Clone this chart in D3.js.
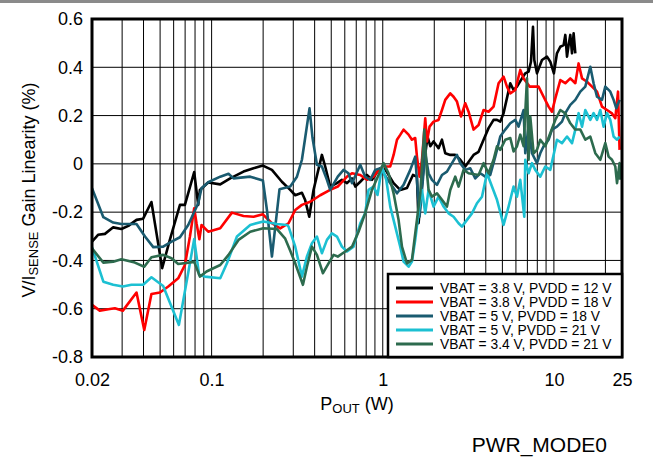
<!DOCTYPE html>
<html><head><meta charset="utf-8">
<script src="https://cdn.jsdelivr.net/npm/d3@7/dist/d3.min.js"></script>
<style>
body{margin:0;background:#fff;}
svg{display:block;font-family:"Liberation Sans",Arial,sans-serif;}
</style></head>
<body><svg id="c" width="653" height="465"></svg>
<script>
const xTicks = [0.02, 0.1, 1, 10, 25];
const yTicks = [-0.8, -0.6, -0.4, -0.2, 0, 0.2, 0.4, 0.6];
const xGrid = [0.03,0.04,0.05,0.06,0.07,0.08,0.09,0.1,0.2,0.3,0.4,0.5,0.6,0.7,0.8,0.9,1,2,3,4,5,6,7,8,9,10,20];
const seriesNames = ["VBAT = 3.8 V, PVDD = 12 V","VBAT = 3.8 V, PVDD = 18 V","VBAT = 5 V, PVDD = 18 V","VBAT = 5 V, PVDD = 21 V","VBAT = 3.4 V, PVDD = 21 V"];
const seriesColors = ["#000000","#ff0000","#1a5b70","#1cc0d2","#2d6b4e"];

const blackData = [[0.02,-0.322],[0.0217,-0.294],[0.0238,-0.29],[0.0266,-0.263],[0.0297,-0.27],[0.0326,-0.257],[0.0364,-0.232],[0.0398,-0.227],[0.0445,-0.158],[0.0514,-0.432],[0.057,-0.315],[0.0653,-0.17],[0.0698,-0.17],[0.0791,-0.034],[0.0835,-0.17],[0.0854,-0.108],[0.0955,-0.077],[0.1123,-0.085],[0.1284,-0.06],[0.1536,-0.032],[0.1758,-0.018],[0.1994,-0.007],[0.2251,-0.025],[0.2574,-0.074],[0.288,-0.108],[0.308,-0.13],[0.337,-0.12],[0.352,-0.15],[0.372,-0.219],[0.394,-0.108],[0.441,0.037],[0.461,-0.011],[0.493,-0.094],[0.54,-0.08],[0.577,-0.066],[0.618,-0.08],[0.661,-0.06],[0.691,-0.094],[0.739,-0.074],[0.808,-0.046],[0.865,-0.066],[0.945,-0.025],[1.011,-0.011],[1.081,-0.046],[1.157,-0.08],[1.265,-0.108],[1.385,-0.1],[1.501,-0.046],[1.584,-0.053],[1.619,-0.246],[1.732,-0.011],[1.827,0.113],[1.895,0.073],[1.981,0.093],[2.119,0.065],[2.218,0.1],[2.318,0.044],[2.48,0.037],[2.652,0.037],[2.837,0.017],[3.035,-0.011],[3.393,0.037],[3.63,0.05],[3.883,0.1],[4.152,0.148],[4.441,0.182],[4.65,0.182],[4.86,0.175],[5.081,0.21],[5.56,0.334],[5.813,0.306],[6.086,0.32],[6.51,0.354],[6.804,0.375],[7.114,0.382],[7.346,0.423],[7.548,0.568],[7.68,0.43],[7.965,0.375],[8.52,0.43],[9.113,0.444],[9.524,0.423],[10.0,0.375],[10.42,0.458],[10.9,0.485],[11.4,0.492],[11.66,0.534],[11.93,0.444],[12.19,0.492],[12.47,0.534],[12.76,0.458],[13.04,0.541],[13.34,0.458]];

const redData = [[0.02,-0.584],[0.0222,-0.608],[0.0249,-0.602],[0.0272,-0.598],[0.0303,-0.608],[0.0364,-0.533],[0.0404,-0.688],[0.0445,-0.539],[0.0499,-0.533],[0.0558,-0.508],[0.0638,-0.474],[0.0698,-0.419],[0.0747,-0.301],[0.0791,-0.184],[0.0816,-0.246],[0.0848,-0.312],[0.0873,-0.253],[0.0955,-0.281],[0.1123,-0.267],[0.1314,-0.202],[0.1536,-0.216],[0.1758,-0.219],[0.1994,-0.209],[0.2251,-0.246],[0.2517,-0.267],[0.2815,-0.246],[0.308,-0.191],[0.337,-0.17],[0.377,-0.157],[0.4312,-0.13],[0.493,-0.108],[0.5459,-0.094],[0.618,-0.053],[0.661,-0.039],[0.739,-0.046],[0.808,-0.066],[0.8835,-0.053],[0.967,-0.018],[1.034,-0.011],[1.106,-0.011],[1.157,0.037],[1.211,0.1],[1.265,0.12],[1.323,0.142],[1.415,0.121],[1.481,0.1],[1.548,0.107],[1.584,0.03],[1.641,-0.053],[1.695,0.017],[1.771,0.189],[1.813,0.093],[1.877,0.154],[1.981,0.175],[2.119,0.182],[2.218,0.223],[2.318,0.265],[2.48,0.292],[2.593,0.278],[2.714,0.258],[2.864,0.196],[3.035,0.251],[3.173,0.216],[3.393,0.142],[3.63,0.161],[3.883,0.223],[4.152,0.216],[4.248,0.223],[4.441,0.237],[4.751,0.334],[5.081,0.361],[5.319,0.32],[5.56,0.292],[5.947,0.306],[6.361,0.389],[6.651,0.354],[7.211,0.32],[7.61,0.32],[8.138,0.32],[8.705,0.278],[9.31,0.237],[9.746,0.216],[10.19,0.271],[10.9,0.347],[11.66,0.334],[12.47,0.354],[13.34,0.334],[13.94,0.416],[14.6,0.354],[15.61,0.34],[16.7,0.32],[17.86,0.299],[19.1,0.237],[20.43,0.223],[21.85,0.209],[22.85,0.189],[23.7,0.299],[24.2,0.058]];

const tealData = [[0.02,-0.101],[0.0233,-0.221],[0.0266,-0.243],[0.0297,-0.249],[0.0364,-0.249],[0.0408,-0.301],[0.0456,-0.345],[0.0521,-0.343],[0.0583,-0.322],[0.0653,-0.304],[0.073,-0.253],[0.0835,-0.163],[0.0873,-0.101],[0.0955,-0.076],[0.1123,-0.053],[0.1255,-0.041],[0.1343,-0.06],[0.1681,-0.053],[0.1994,-0.069],[0.2105,-0.191],[0.2251,-0.384],[0.2493,-0.105],[0.288,-0.094],[0.3152,-0.053],[0.337,0.017],[0.352,0.107],[0.3733,0.23],[0.3888,0.107],[0.4125,-0.004],[0.441,-0.011],[0.4719,-0.066],[0.493,-0.108],[0.5459,-0.053],[0.59,-0.025],[0.63,-0.039],[0.661,-0.08],[0.739,-0.004],[0.789,-0.053],[0.8456,-0.066],[0.904,-0.025],[0.967,-0.018],[1.106,-0.08],[1.211,-0.122],[1.323,-0.087],[1.448,-0.025],[1.548,0.03],[1.641,-0.219],[1.695,-0.108],[1.771,0.044],[1.852,-0.039],[1.939,-0.066],[2.074,-0.087],[2.218,-0.046],[2.372,-0.032],[2.538,0.003],[2.714,0.037],[2.837,0.003],[3.035,-0.025],[3.246,-0.018],[3.471,-0.06],[3.713,-0.039],[3.972,-0.053],[4.248,-0.046],[4.543,0.03],[4.86,0.113],[5.198,0.142],[5.56,0.168],[5.947,0.182],[6.218,0.154],[6.651,0.223],[6.804,0.044],[7.114,0.154],[7.447,0.044],[7.965,0.003],[8.325,0.044],[8.705,0.073],[9.31,0.1],[9.746,0.142],[10.42,0.154],[11.15,0.175],[11.66,0.21],[12.47,0.244],[13.34,0.265],[14.27,0.299],[15.26,0.32],[16.32,0.402],[17.06,0.334],[17.86,0.278],[19.1,0.265],[19.97,0.32],[21.36,0.299],[22.33,0.265],[23.16,0.23],[24.2,0.265]];

const cyanData = [[0.02,-0.345],[0.0233,-0.488],[0.0266,-0.501],[0.0303,-0.508],[0.034,-0.501],[0.0398,-0.501],[0.0445,-0.47],[0.0521,-0.506],[0.0644,-0.667],[0.0791,-0.312],[0.0845,-0.46],[0.0914,-0.467],[0.1123,-0.474],[0.1229,-0.412],[0.1406,-0.301],[0.1681,-0.253],[0.2005,-0.239],[0.2408,-0.249],[0.2755,-0.253],[0.2815,-0.26],[0.308,-0.343],[0.337,-0.467],[0.3605,-0.384],[0.3856,-0.329],[0.4125,-0.301],[0.441,-0.37],[0.4719,-0.315],[0.5047,-0.288],[0.54,-0.301],[0.577,-0.343],[0.618,-0.363],[0.6751,-0.343],[0.739,-0.246],[0.789,-0.205],[0.826,-0.108],[0.8835,-0.094],[0.932,-0.129],[0.989,-0.011],[1.048,-0.066],[1.106,-0.177],[1.183,-0.26],[1.265,-0.343],[1.323,-0.405],[1.415,-0.426],[1.481,-0.405],[1.548,-0.315],[1.619,-0.205],[1.695,-0.108],[1.771,-0.205],[1.852,-0.108],[1.981,-0.177],[2.119,-0.136],[2.266,-0.177],[2.424,-0.205],[2.593,-0.219],[2.773,-0.246],[2.903,-0.26],[3.105,-0.232],[3.321,-0.205],[3.552,-0.163],[3.8,-0.136],[4.064,-0.039],[4.347,-0.094],[4.65,-0.149],[4.86,-0.2],[5.081,-0.253],[5.435,-0.177],[5.813,-0.094],[6.086,-0.136],[6.361,-0.066],[6.713,-0.219],[6.804,0.017],[7.114,-0.039],[7.447,0.003],[7.784,-0.025],[8.325,-0.053],[8.905,-0.011],[9.524,-0.025],[10.42,0.1],[11.15,0.086],[11.93,0.113],[12.76,0.086],[13.34,0.142],[13.94,0.21],[14.6,0.154],[15.26,0.223],[16.32,0.182],[17.06,0.21],[17.86,0.182],[18.67,0.223],[19.52,0.154],[20.43,0.21],[21.36,0.182],[22.33,0.113],[23.38,0.1],[24.2,0.113]];

const greenData = [[0.02,-0.35],[0.0233,-0.409],[0.0266,-0.405],[0.0297,-0.395],[0.0356,-0.409],[0.0404,-0.426],[0.0445,-0.387],[0.0521,-0.377],[0.0583,-0.391],[0.0638,-0.415],[0.0791,-0.406],[0.0854,-0.467],[0.0934,-0.446],[0.1123,-0.419],[0.1255,-0.377],[0.1436,-0.315],[0.1681,-0.281],[0.2005,-0.267],[0.2408,-0.27],[0.2692,-0.31],[0.288,-0.36],[0.308,-0.412],[0.3416,-0.501],[0.3605,-0.426],[0.3856,-0.343],[0.4125,-0.377],[0.4472,-0.453],[0.4823,-0.412],[0.5159,-0.377],[0.5459,-0.384],[0.6038,-0.363],[0.661,-0.343],[0.722,-0.281],[0.789,-0.205],[0.865,-0.108],[0.945,-0.046],[1.011,0.003],[1.081,-0.039],[1.157,-0.122],[1.237,-0.232],[1.295,-0.343],[1.385,-0.412],[1.481,-0.398],[1.548,-0.288],[1.657,-0.122],[1.749,0.142],[1.813,-0.039],[1.852,-0.108],[1.939,-0.136],[2.074,-0.122],[2.218,-0.149],[2.372,-0.177],[2.48,-0.108],[2.652,-0.053],[2.773,-0.094],[2.966,-0.025],[3.173,-0.039],[3.63,-0.046],[3.883,0.003],[4.152,-0.039],[4.441,0.017],[4.65,0.073],[4.86,0.058],[5.198,0.1],[5.56,0.107],[5.813,0.051],[6.086,0.073],[6.361,0.121],[6.651,0.073],[6.963,0.354],[7.114,0.017],[7.277,0.196],[7.61,0.044],[7.965,0.058],[8.325,0.1],[8.905,0.073],[9.524,0.127],[10.19,0.182],[10.9,0.223],[11.66,0.209],[12.47,0.168],[13.34,0.142],[14.27,0.142],[15.26,0.1],[16.32,0.113],[17.46,0.044],[18.67,0.017],[19.97,0.086],[20.88,0.03],[21.85,0.017],[22.85,-0.011],[23.38,-0.08],[24.2,0.003],[24.4,-0.066]];

const allSeries = [blackData, redData, tealData, cyanData, greenData];

const svg = d3.select("#c");
const L = 92, R = 622, T = 19, B = 357;
const x = d3.scaleLog().domain([0.02, 25]).range([L, R]);
const y = d3.scaleLinear().domain([-0.8, 0.6]).range([B, T]);

// top gray rule
svg.append("rect").attr("x",0).attr("y",0).attr("width",653).attr("height",3).attr("fill","#8a8a8a");

// grid
const g = svg.append("g");
g.selectAll("line.vg").data(xGrid).join("line")
  .attr("x1", d=>x(d)).attr("x2", d=>x(d)).attr("y1", T).attr("y2", B)
  .attr("stroke","#000").attr("stroke-width",1);
g.selectAll("line.hg").data(yTicks.slice(1,-1)).join("line")
  .attr("x1", L).attr("x2", R).attr("y1", d=>y(d)).attr("y2", d=>y(d))
  .attr("stroke","#000").attr("stroke-width",1);

// series
svg.append("clipPath").attr("id","pc").append("rect")
  .attr("x",L).attr("y",T).attr("width",R-L).attr("height",B-T);
const line = d3.line().x(d=>x(d[0])).y(d=>y(d[1]));
const sg = svg.append("g").attr("clip-path","url(#pc)");
allSeries.forEach((s,i)=>{
  sg.append("path").datum(s).attr("d", line).attr("fill","none")
    .attr("stroke", seriesColors[i]).attr("stroke-width",2.6)
    .attr("stroke-linejoin","round");
});

// frame
svg.append("rect").attr("x",L).attr("y",T).attr("width",R-L).attr("height",B-T)
  .attr("fill","none").attr("stroke","#000").attr("stroke-width",3);

// axes (labels only)
const fmt = d => d===0 ? "0" : String(d);
const ya = svg.append("g").attr("transform",`translate(${L},0)`)
  .call(d3.axisLeft(y).tickValues(yTicks).tickSize(0).tickPadding(9).tickFormat(fmt));
ya.select(".domain").remove();
ya.selectAll("text").attr("font-size",18).attr("font-family","Liberation Sans, Arial, sans-serif").attr("fill","#000");
const xa = svg.append("g").attr("transform",`translate(0,${B})`)
  .call(d3.axisBottom(x).tickValues(xTicks).tickSize(0).tickPadding(16).tickFormat(d=>String(d)));
xa.select(".domain").remove();
xa.selectAll("text").attr("font-size",18).attr("font-family","Liberation Sans, Arial, sans-serif").attr("fill","#000");

// axis titles
const xt = svg.append("text").attr("x",357).attr("y",410).attr("text-anchor","middle").attr("font-size",18);
xt.append("tspan").text("P");
xt.append("tspan").attr("font-size",13).attr("dy",3).text("OUT");
xt.append("tspan").attr("dy",-3).text(" (W)");

const yt = svg.append("text").attr("transform","translate(35,190) rotate(-90)").attr("text-anchor","middle").attr("font-size",18);
yt.append("tspan").text("V/I");
yt.append("tspan").attr("font-size",13).attr("dy",3).text("SENSE");
yt.append("tspan").attr("dy",-3).text(" Gain Linearity (%)");

// legend
const lg = svg.append("g");
lg.append("rect").attr("x",388).attr("y",274).attr("width",234).attr("height",83)
  .attr("fill","#fff").attr("stroke","#000").attr("stroke-width",2.5);
seriesNames.forEach((n,i)=>{
  const yy = 288 + i*14;
  lg.append("line").attr("x1",396).attr("x2",433).attr("y1",yy).attr("y2",yy)
    .attr("stroke",seriesColors[i]).attr("stroke-width",3);
  lg.append("text").attr("x",440).attr("y",yy+5).attr("font-size",13.8).text(n);
});

svg.append("text").attr("x",607).attr("y",452).attr("text-anchor","end").attr("font-size",21).text("PWR_MODE0");
</script></body></html>
